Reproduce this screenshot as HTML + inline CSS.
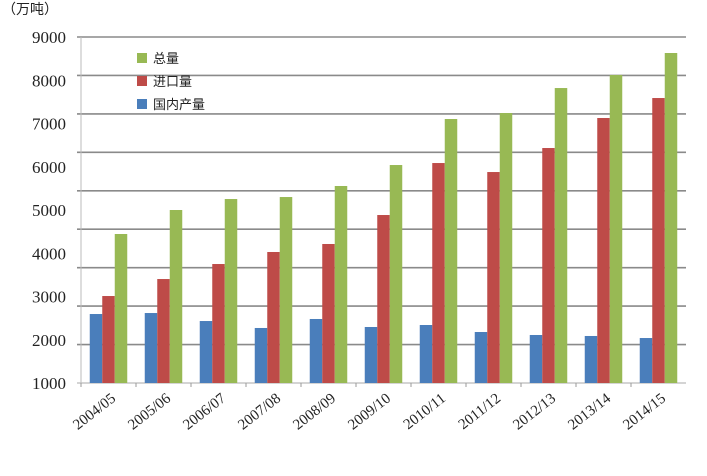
<!DOCTYPE html>
<html><head><meta charset="utf-8"><style>
html,body{margin:0;padding:0;background:#fff;}
svg{display:block;}
text{font-family:"Liberation Serif","Noto Serif CJK SC",serif;fill:#222;}
.cjk{font-family:"Liberation Sans","Noto Sans CJK SC",sans-serif;}
</style></head><body>
<svg id="chart" width="707" height="476" viewBox="0 0 707 476"></svg>
<script>
const categories = ["2004/05","2005/06","2006/07","2007/08","2008/09","2009/10","2010/11","2011/12","2012/13","2013/14","2014/15"];
const domestic = [2595,2618,2433,2272,2480,2295,2341,2179,2110,2087,2040];
const imports = [3011,3404,3751,4029,4214,4884,6086,5878,6433,7127,7589];
const total = [4445,5000,5254,5300,5555,6040,7104,7242,7820,8121,8630];
const yTicks = [1000,2000,3000,4000,5000,6000,7000,8000,9000];
const seriesNames = ["总量","进口量","国内产量"];

const NS="http://www.w3.org/2000/svg";
const svg=document.getElementById('chart');
function mk(tag,attrs,parent){const e=document.createElementNS(NS,tag);for(const k in attrs)e.setAttribute(k,attrs[k]);(parent||svg).appendChild(e);return e;}
const X0=81,X1=686,YB=383,YT=37,YMIN=1000,YMAX=9000;
function y(v){return YB-(v-YMIN)/(YMAX-YMIN)*(YB-YT);}
const gw=(X1-X0)/categories.length;
function gx(i){return X0+i*gw;}

const unit=mk('text',{x:2,y:14,'font-size':14,class:'cjk'});


unit.textContent='（万吨）';

// gridlines (10 evenly spaced lines as in source)
for(let k=0;k<10;k++){
  const yy=YT+k*(YB-YT)/9;
  const g=mk('line',{x1:X0-4,x2:X1,y1:yy,y2:yy,stroke:k===9?'#aaa':'#8a8a8a','stroke-width':k===9?1:1.6});
  
  
}
const ax=mk('line',{x1:X0,x2:X0,y1:YT,y2:YB+4,stroke:'#bbb','stroke-width':1});



yTicks.forEach(v=>{
  const t=mk('text',{x:66,y:y(v)+6,'text-anchor':'end','font-size':17});
  
  
  t.textContent=v;
});

const cols={total:'#98b954',imports:'#be4b48',domestic:'#4a7ebb'};
const bw=12.5;
categories.forEach((c,i)=>{
  const s=gx(i)+(gw-3*bw)/2;
  [[domestic,'domestic'],[imports,'imports'],[total,'total']].forEach(([arr,key],j)=>{
    const v=arr[i];
    const r=mk('rect',{x:s+j*bw,y:y(v),width:bw,height:YB-y(v),fill:cols[key]});
    
    
  });
  const tk=mk('line',{x1:gx(i),x2:gx(i),y1:YB,y2:YB+4,stroke:'#999'});
  
  
  const cx=gx(i)+gw/2+8;
  const t=mk('text',{x:cx,y:400,'text-anchor':'end','font-size':15,transform:'rotate(-38 '+cx+' 400)'});
  
  
  t.textContent=c;
});

const legCols=[cols.total,cols.imports,cols.domestic];
seriesNames.forEach((n,k)=>{
  const ly=57+k*23;
  const sq=mk('rect',{x:137,y:ly-4,width:10,height:10,fill:legCols[k]});
  
  
  const t=mk('text',{x:153,y:ly+6,'font-size':13,class:'cjk'});
  
  
  t.textContent=n;
});
</script>
</body></html>
